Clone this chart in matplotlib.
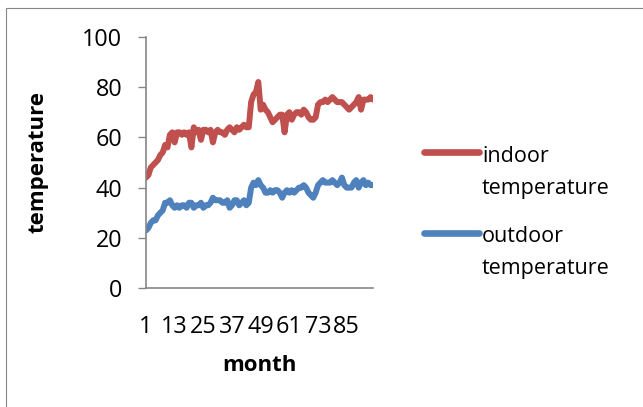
import matplotlib
matplotlib.use("Agg")
import matplotlib.pyplot as plt
from matplotlib.lines import Line2D
from matplotlib.patches import Rectangle

months = list(range(1, 97))
indoor = [44, 45, 48, 49, 50, 51, 53, 54, 57, 56, 61, 62, 58, 62, 62, 61,
          62, 61, 62, 56, 64, 62, 63, 59, 63, 63, 62, 63, 58, 62, 63, 62,
          62, 61, 63, 64, 63, 62, 64, 63, 64, 65, 64, 64, 74, 77, 78, 82,
          71, 73, 71, 70, 68, 66, 67, 68, 69, 69, 62, 69, 70, 67, 69, 70,
          70, 69, 71, 70, 68, 67, 67, 68, 73, 74, 74, 75, 74, 75, 76, 75,
          74, 74, 74, 73, 72, 71, 72, 73, 74, 76, 71, 75, 75, 75, 76, 75]
outdoor = [23, 24, 26, 27, 27, 29, 30, 31, 34, 34, 35, 33, 32, 33, 32, 33,
           33, 32, 34, 34, 32, 33, 33, 34, 32, 33, 33, 34, 36, 35, 35, 35,
           34, 34, 35, 32, 33, 35, 35, 33, 34, 35, 33, 34, 40, 42, 41, 43,
           41, 40, 38, 38, 39, 38, 39, 39, 38, 36, 38, 39, 38, 39, 38, 39,
           40, 40, 41, 40, 38, 37, 36, 38, 41, 42, 43, 42, 42, 42, 43, 42,
           41, 42, 44, 41, 40, 40, 40, 42, 43, 40, 42, 43, 41, 42, 41, 41]
series_names = [["indoor", "temperature"], ["outdoor", "temperature"]]
x_ticks = [1, 13, 25, 37, 49, 61, 73, 85]
y_ticks = [0, 20, 40, 60, 80, 100]

RED = "#C0504D"
BLUE = "#4F81BD"
GRID = "#868686"
FONT = "Open Sans"

W, H = 643, 407
fig = plt.figure(figsize=(W / 100, H / 100), dpi=100)

# outer chart border
fig.patches.append(Rectangle((6 / W, -0.1), 1.2, 1 - 8 / H + 0.1,
                             transform=fig.transFigure, fill=False,
                             edgecolor=GRID, linewidth=0.8))

ax = fig.add_axes([146 / W, 1 - 288.3 / H, (373 - 146) / W, (288.3 - 36.7) / H])
ax.plot(months, indoor, color=RED, linewidth=4.3, solid_joinstyle="round",
        solid_capstyle="round")
ax.plot(months, outdoor, color=BLUE, linewidth=4.3, solid_joinstyle="round",
        solid_capstyle="round")

ax.set_xlim(1, 96)
ax.set_ylim(0, 100)
ax.set_yticks(y_ticks)
ax.set_yticklabels([str(v) for v in y_ticks], fontsize=16.8, family=FONT)
ax.set_xticks(x_ticks)
ax.set_xticklabels([str(v) for v in x_ticks], fontsize=16.8, family=FONT)
ax.tick_params(axis="y", length=6, width=1, color=GRID, pad=11)
ax.tick_params(axis="x", length=0, pad=19)
for s in ["top", "right"]:
    ax.spines[s].set_visible(False)
for s in ["left", "bottom"]:
    ax.spines[s].set_color(GRID)
    ax.spines[s].set_linewidth(1.2)

ax.set_xlabel("month", fontsize=16, fontweight="bold", family=FONT, labelpad=12)
ax.set_ylabel("temperature", fontsize=16, fontweight="bold", family=FONT, labelpad=24)

# legend (manual, Excel style: marker line aligned with first text line)
leg = [(152, 162, RED, series_names[0]), (233, 242, BLUE, series_names[1])]
for yy, base, col, lines in leg:
    fig.add_artist(Line2D([424 / W, 479 / W], [1 - yy / H, 1 - yy / H],
                          transform=fig.transFigure, color=col, linewidth=4.8,
                          solid_capstyle="round"))
    for k, txt in enumerate(lines):
        fig.text(482 / W, 1 - (base + 32 * k) / H, txt, fontsize=15.5,
                 family=FONT, va="baseline", ha="left")

fig.savefig("out.png", dpi=100)
